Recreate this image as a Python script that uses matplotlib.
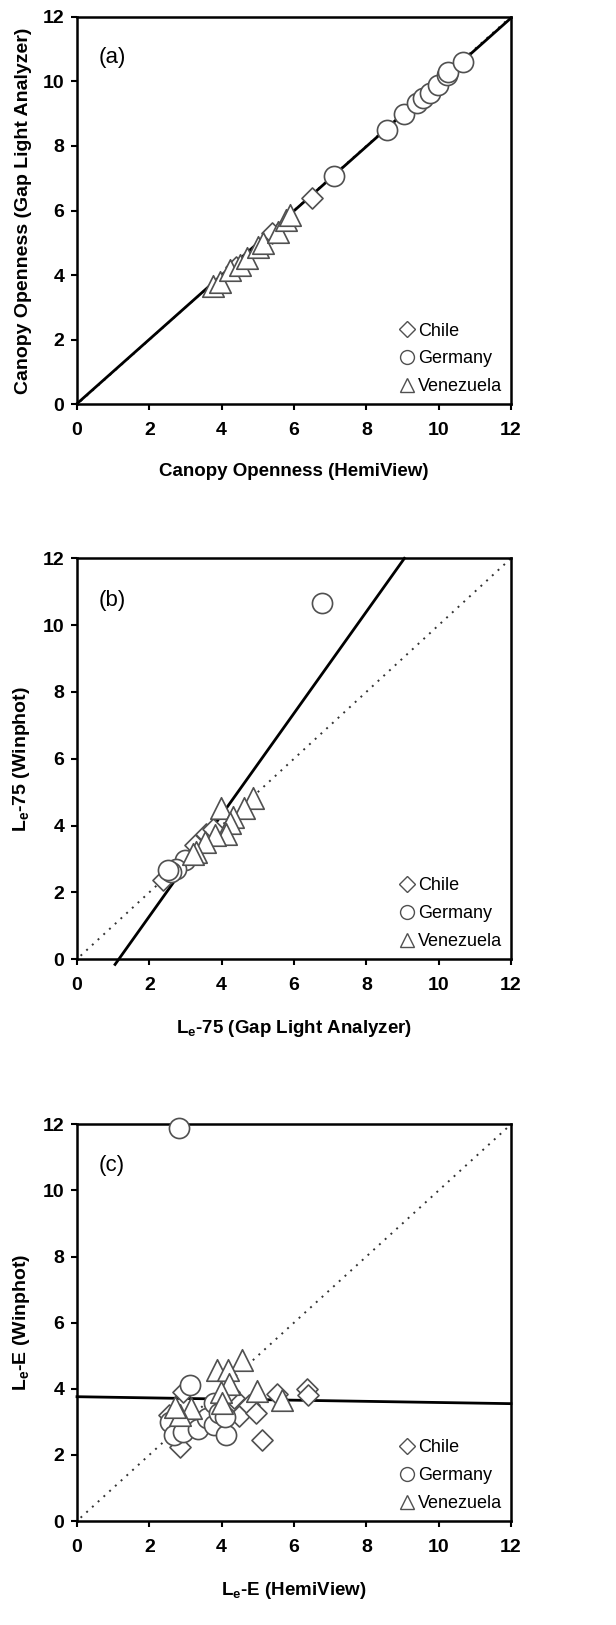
import matplotlib
matplotlib.use("Agg")
import matplotlib.pyplot as plt
from matplotlib.lines import Line2D
import numpy as np

plt.rcParams['font.family'] = ['Liberation Sans', 'DejaVu Sans']
plt.rcParams['mathtext.fontset'] = 'custom'
plt.rcParams['mathtext.rm'] = 'Liberation Sans'
plt.rcParams['mathtext.bf'] = 'Liberation Sans:bold'

# (a) canopy openness, HemiView (x) vs Gap Light Analyzer (y)
a_chile_x = [6.51, 5.40, 4.40]
a_chile_y = [6.40, 5.30, 4.25]
a_germany_x = [7.11, 8.56, 9.04, 9.39, 9.58, 9.76, 9.99, 10.22, 10.27, 10.68]
a_germany_y = [7.07, 8.49, 8.98, 9.32, 9.47, 9.63, 9.89, 10.20, 10.30, 10.61]
a_venez_x = [3.76, 3.95, 4.23, 4.50, 4.69, 5.01, 5.15, 5.56, 5.79, 5.89]
a_venez_y = [3.66, 3.80, 4.16, 4.31, 4.52, 4.88, 4.98, 5.35, 5.71, 5.86]
a_fit = (0.995, 0.02)  # slope, intercept

# (b) Le-75, Gap Light Analyzer (x) vs Winphot (y)
b_chile_x = [2.38, 3.26, 3.58, 3.76]
b_chile_y = [2.37, 3.41, 3.76, 3.91]
b_germany_x = [6.78, 2.98, 2.75, 2.61, 2.52]
b_germany_y = [10.67, 2.96, 2.71, 2.61, 2.66]
b_venez_x = [3.98, 4.87, 4.62, 4.32, 4.22, 4.13, 3.81, 3.53, 3.30, 3.21]
b_venez_y = [4.51, 4.81, 4.51, 4.26, 4.06, 3.76, 3.71, 3.51, 3.21, 3.16]
b_fit = (1.52, -1.76)

# (c) Le-E, HemiView (x) vs Winphot (y)
c_chile_x = [2.85, 5.11, 5.54, 6.35, 6.39, 2.93, 2.54, 4.33, 4.49, 4.76, 4.95, 4.21]
c_chile_y = [2.23, 2.45, 3.85, 3.98, 3.81, 3.90, 3.22, 3.71, 3.18, 3.51, 3.27, 3.90]
c_germany_x = [2.82, 3.12, 2.57, 2.69, 2.93, 3.35, 3.59, 3.78, 3.78, 3.94, 4.13, 4.10]
c_germany_y = [11.90, 4.10, 2.98, 2.60, 2.69, 2.79, 3.13, 2.89, 3.56, 3.27, 2.60, 3.15]
c_venez_x = [4.56, 3.86, 4.17, 4.99, 5.66, 4.21, 3.98, 4.02, 3.16, 2.85, 2.70]
c_venez_y = [4.87, 4.58, 4.58, 3.94, 3.66, 4.14, 3.90, 3.58, 3.42, 3.22, 3.46]
c_fit = (-0.0175, 3.76)

countries = ["Chile", "Germany", "Venezuela"]
markers = ["D", "o", "^"]
sizes = [115, 210, 240]
edge = "#505050"

panels = [
    ("(a)", [(a_chile_x, a_chile_y), (a_germany_x, a_germany_y), (a_venez_x, a_venez_y)], a_fit,
     "Canopy Openness (HemiView)", "Canopy Openness (Gap Light Analyzer)"),
    ("(b)", [(b_chile_x, b_chile_y), (b_germany_x, b_germany_y), (b_venez_x, b_venez_y)], b_fit,
     r"L$_\mathbf{e}$-75 (Gap Light Analyzer)", r"L$_\mathbf{e}$-75 (Winphot)"),
    ("(c)", [(c_chile_x, c_chile_y), (c_germany_x, c_germany_y), (c_venez_x, c_venez_y)], c_fit,
     r"L$_\mathbf{e}$-E (HemiView)", r"L$_\mathbf{e}$-E (Winphot)"),
]

rects = [
    [0.125, 0.7512, 0.7045, 0.2385],
    [0.125, 0.4098, 0.7045, 0.2466],
    [0.125, 0.0640, 0.7045, 0.2441],
]

fig = plt.figure(figsize=(6.16, 16.25), dpi=100)

for rect, (tag, series, fit, xlab, ylab) in zip(rects, panels):
    ax = fig.add_axes(rect)
    # 1:1 line
    one = np.linspace(0.1, 12, 50)
    ax.plot(one, one, ls=(0, (1, 3)), color="#333333", lw=1.4, zorder=1)
    # regression line
    m, b = fit
    xs = np.linspace(0, 12, 400)
    ys = m * xs + b
    keep = (ys >= -0.2) & (ys <= 12)
    ax.plot(xs[keep], ys[keep], color="black", lw=2.0, zorder=2, clip_on=False)
    for (x, y), mk, s in zip(series, markers, sizes):
        ax.scatter(x, y, marker=mk, s=s, facecolor="white", edgecolor=edge,
                   linewidths=1.2, zorder=3, clip_on=False)
    ax.set_xlim(0, 12)
    ax.set_ylim(0, 12)
    ax.set_xticks(range(0, 13, 2))
    ax.set_yticks(range(0, 13, 2))
    ax.tick_params(direction="out", length=4, width=1.5, labelsize=14)
    ax.tick_params(axis="x", pad=9)
    ax.tick_params(axis="y", pad=5)
    for lbl in ax.get_xticklabels() + ax.get_yticklabels():
        lbl.set_fontweight("bold")
    for sp in ax.spines.values():
        sp.set_linewidth(1.8)
    ax.set_xlabel(xlab, fontsize=13.5, fontweight="bold", labelpad=17)
    ax.set_ylabel(ylab, fontsize=14, fontweight="bold", labelpad=8)
    ax.text(0.05, 0.895, tag, transform=ax.transAxes, fontsize=16, va="center", ha="left")
    handles = [Line2D([], [], marker=mk, ls="none", markersize=ms, markerfacecolor="white",
                      markeredgecolor=edge, markeredgewidth=1.0)
               for mk, ms in zip(markers, [8, 10, 10])]
    ax.legend(handles, countries, loc="lower right", frameon=False, fontsize=13,
              handlelength=0.8, handletextpad=0.2, labelspacing=0.6,
              borderaxespad=0.3, borderpad=0.2)

fig.savefig("out.png", dpi=100)
